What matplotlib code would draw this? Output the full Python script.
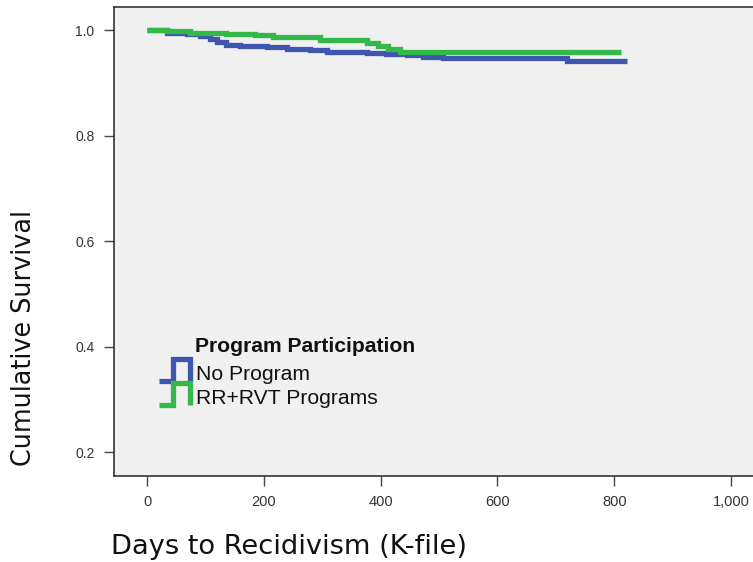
import matplotlib
matplotlib.use("Agg")
import matplotlib.pyplot as plt
from matplotlib.legend_handler import HandlerBase
from matplotlib.lines import Line2D
from matplotlib.ticker import FuncFormatter

# ---- data ----
no_prog_days = [0, 34, 68, 91, 108, 119, 136, 159, 205, 239, 279, 308, 376, 410, 445, 473, 507, 719, 821]
no_prog_surv = [1.0, 0.9956, 0.993, 0.989, 0.984, 0.978, 0.973, 0.970, 0.968, 0.965, 0.963, 0.960,
                0.958, 0.956, 0.9526, 0.950, 0.9475, 0.9425, 0.9425]
rr_days = [0, 34, 74, 136, 185, 216, 296, 376, 395, 413, 433, 811]
rr_surv = [1.0, 0.998, 0.9956, 0.993, 0.9905, 0.9867, 0.9817, 0.9754, 0.970, 0.965, 0.960, 0.960]
series_labels = ["No Program", "RR+RVT Programs"]
series_colors = ["#3f56ae", "#33b84a"]
x_ticks = [0, 200, 400, 600, 800, 1000]
y_ticks = [0.2, 0.4, 0.6, 0.8, 1.0]

W, H = 753, 562
fig = plt.figure(figsize=(W / 100, H / 100), dpi=100)
fig.patch.set_facecolor("white")

left, right, top, bottom = 114, 765, 7, 476
ax = fig.add_axes([left / W, (H - bottom) / H, (right - left) / W, (bottom - top) / H])
ax.set_facecolor("#f0f0f0")

lw = 3.8
ax.step(no_prog_days, no_prog_surv, where="post", color=series_colors[0], lw=lw,
        solid_joinstyle="miter", solid_capstyle="butt", zorder=3)
ax.step(rr_days, rr_surv, where="post", color=series_colors[1], lw=lw,
        solid_joinstyle="miter", solid_capstyle="butt", zorder=3)

ax.set_xlim(-56.5, 1058)
ax.set_ylim(0.155, 1.0444)
ax.set_xticks(x_ticks)
ax.set_yticks(y_ticks)
ax.xaxis.set_major_formatter(FuncFormatter(lambda v, p: f"{int(v):,}"))
ax.yaxis.set_major_formatter(FuncFormatter(lambda v, p: f"{v:.1f}"))

tickfont = "Liberation Sans"
for lab in ax.get_xticklabels():
    lab.set_fontfamily(tickfont)
    lab.set_fontsize(10.5)
for lab in ax.get_yticklabels():
    lab.set_fontfamily(tickfont)
    lab.set_fontsize(10)
ax.tick_params(axis="both", direction="out", length=7, width=1, color="#444444",
               labelcolor="#333333", pad=7)

for s in ax.spines.values():
    s.set_color("#333333")
    s.set_linewidth(1.2)

# y / x axis titles
fig.text(24 / W, 1 - 338 / H, "Cumulative Survival", rotation=90, ha="center", va="center",
         fontsize=18.4, family="DejaVu Sans", color="#111111")
fig.text(111 / W, 1 - 547 / H, "Days to Recidivism (K-file)", ha="left", va="center",
         fontsize=19.6, family="DejaVu Sans", color="#111111")


class PulseHandler(HandlerBase):
    def create_artists(self, legend, orig_handle, xdescent, ydescent, width, height, fontsize, trans):
        x0, y0 = -xdescent, -ydescent
        yb = y0 + 0.05 * height
        yt = y0 + 1.2 * height
        xs = [x0, x0 + 0.42 * width, x0 + 0.42 * width, x0 + 0.95 * width, x0 + 0.95 * width]
        ys = [yb, yb, yt, yt, yb]
        ln = Line2D(xs, ys, color=orig_handle.get_color(), lw=orig_handle.get_linewidth(),
                    solid_joinstyle="miter", solid_capstyle="butt", transform=trans)
        return [ln]


handles = [Line2D([], [], color=c, lw=lw) for c in series_colors]
leg = ax.legend(handles, series_labels, loc="upper left",
                bbox_to_anchor=(159 / W, 1 - 363 / H), bbox_transform=fig.transFigure,
                frameon=False, borderpad=0, borderaxespad=0,
                handlelength=1.55, handleheight=1.0, handletextpad=0.2, labelspacing=0.16,
                handler_map={Line2D: PulseHandler()},
                prop={"family": "Liberation Sans", "size": 15.2})
for t in leg.get_texts():
    t.set_color("#111111")

fig.text(195 / W, 1 - 347 / H, "Program Participation", ha="left", va="center",
         fontsize=15.2, fontweight="bold", family="Liberation Sans", color="#111111")

fig.savefig("out.png", dpi=100)
